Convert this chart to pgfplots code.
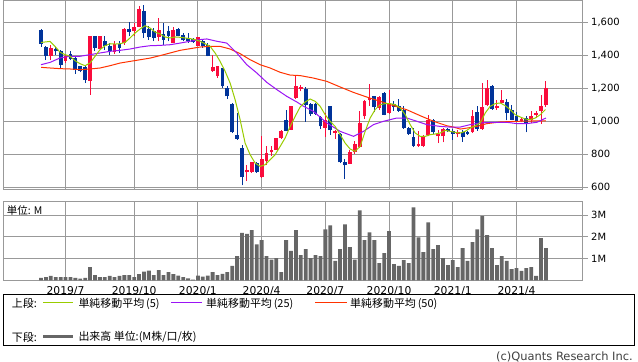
\documentclass[border=0pt]{standalone}
\usepackage{fontspec}
\setmainfont{DejaVu Sans}
\newfontfamily\jp{Noto Sans CJK JP}
\usepackage{pgfplots}
\usepackage{pgfplotstable}
\pgfplotsset{compat=1.18}

\definecolor{upred}{RGB}{250,12,60}
\definecolor{dnblue}{RGB}{0,51,153}
\definecolor{maA}{RGB}{153,204,0}
\definecolor{maB}{RGB}{155,20,245}
\definecolor{maC}{RGB}{255,51,0}
\definecolor{volgray}{RGB}{102,102,102}
\definecolor{gridgray}{RGB}{153,153,153}

% up candles (close > open): index open high low close
\pgfplotstableread{
i o h l c
2 1392 1463 1368 1443
5 1362 1402 1352 1392
10 1244 1515 1160 1513
12 1437 1515 1435 1513
15 1418 1483 1406 1469
17 1473 1562 1463 1560
19 1543 1594 1513 1570
20 1570 1695 1568 1681
24 1509 1624 1483 1549
27 1473 1570 1470 1553
32 1457 1511 1453 1509
35 1301 1402 1299 1325
36 1271 1333 1261 1331
42 689 735 635 701
43 689 751 687 749
45 658 907 656 769
46 756 847 735 806
47 810 850 790 822
48 826 899 824 897
49 897 943 893 941
51 947 1091 945 1089
52 1140 1275 1135 1210
53 1195 1215 1180 1205
58 957 1048 903 1008
60 927 943 891 937
63 741 826 739 814
64 810 877 802 862
65 842 1059 836 988
66 1028 1129 1012 1119
67 1125 1226 1093 1139
69 1079 1149 1069 1145
71 1048 1186 1044 1105
77 850 937 842 860
78 850 917 842 903
79 917 1038 907 1008
81 907 943 866 921
82 907 957 870 951
85 919 943 901 935
88 933 1069 927 1028
90 953 1230 947 1083
91 1099 1250 1089 1200
93 1079 1129 1069 1093
94 1109 1190 1105 1129
98 998 1024 992 1014
100 1008 1059 988 1028
101 1038 1063 1018 1048
102 1059 1155 984 1089
103 1095 1244 1085 1200
}\upc

% down candles (close < open)
\pgfplotstableread{
i o h l c
0 1553 1555 1449 1467
1 1449 1452 1368 1392
3 1437 1446 1402 1422
4 1426 1432 1321 1339
6 1408 1422 1372 1378
7 1382 1392 1285 1311
8 1331 1335 1295 1305
9 1325 1331 1230 1250
11 1513 1515 1422 1442
13 1487 1513 1432 1457
14 1453 1473 1402 1422
16 1469 1483 1412 1442
18 1560 1600 1513 1540
21 1669 1701 1503 1533
22 1558 1574 1493 1507
23 1547 1564 1483 1503
25 1527 1594 1463 1493
26 1543 1574 1483 1517
28 1558 1564 1513 1517
29 1519 1533 1483 1489
30 1503 1533 1473 1483
31 1499 1503 1473 1477
33 1487 1497 1443 1453
34 1463 1473 1392 1396
37 1321 1323 1200 1210
38 1200 1210 1133 1149
39 1105 1107 927 931
40 913 1048 887 893
41 836 857 610 658
44 746 752 685 689
50 1004 1069 937 941
54 1195 1205 995 1095
55 1105 1110 1030 1040
56 1105 1110 1035 1045
57 1024 1028 951 968
59 1089 1093 917 943
61 923 927 745 749
62 749 770 648 731
68 1149 1153 1053 1083
70 1170 1174 1034 1038
72 1103 1119 1059 1083
73 1089 1133 1055 1063
74 1069 1089 953 957
75 957 962 917 921
76 901 957 842 850
80 1008 1012 923 931
83 951 955 933 937
84 941 951 887 921
86 933 943 873 901
87 933 937 917 921
89 1055 1089 941 953
92 1214 1220 1069 1075
95 1115 1135 1004 1048
96 1065 1099 1004 1008
97 1028 1055 992 998
99 1018 1028 931 984
}\dnc

% weekly volume (millions)
\pgfplotstableread{
i v
0 0.11
1 0.15
2 0.20
3 0.15
4 0.15
5 0.15
6 0.15
7 0.11
8 0.08
9 0.11
10 0.61
11 0.24
12 0.15
13 0.15
14 0.20
15 0.15
16 0.20
17 0.24
18 0.24
19 0.15
20 0.29
21 0.40
22 0.44
23 0.24
24 0.47
25 0.24
26 0.38
27 0.29
28 0.21
29 0.15
30 0.09
31 0.03
32 0.21
33 0.17
34 0.21
35 0.38
36 0.24
37 0.30
38 0.38
39 0.66
40 1.11
41 2.18
42 2.14
43 2.31
44 1.66
45 1.85
46 1.11
47 0.95
48 1.02
49 0.38
50 1.85
51 1.35
52 2.31
53 1.16
54 1.44
55 1.02
56 1.16
57 1.11
58 2.35
59 2.53
60 0.90
61 1.44
62 2.58
63 1.53
64 0.95
65 3.22
66 1.85
67 2.21
68 1.85
69 0.79
70 1.25
71 2.26
72 0.75
73 0.66
74 0.93
75 0.79
76 3.36
77 1.98
78 1.30
79 2.67
80 1.44
81 1.62
82 1.02
83 0.70
84 0.93
85 0.61
86 1.48
87 0.89
88 1.76
89 2.35
90 2.95
91 2.08
92 1.48
93 0.70
94 1.11
95 0.89
96 0.52
97 0.56
98 0.43
99 0.56
100 0.61
101 0.20
102 1.94
103 1.48
}\vol

\pgfplotsset{
  chartbase/.style={
    anchor=south west, scale only axis, width=579.4bp,
    xmin=-7.7, xmax=110.5,
    axis line style={gridgray, line width=0.9bp},
    xtick={5,19,32,45,58,71,84,97},
    xtick style={/pgfplots/major tick length=0pt},
    ytick pos=right, yticklabel pos=right,
    ytick style={gridgray, line width=0.9bp},
    tick align=outside, major tick length=5bp,
    grid=major, grid style={gridgray, line width=0.9bp},
    /pgf/number format/assume math mode=true,
    ticklabel style={text=black},
  }
}

\begin{document}
\begin{tikzpicture}
\useasboundingbox (0,0) rectangle (638bp,362bp);
\fill[white] (0,0) rectangle (638bp,362bp);

% ---------- price panel ----------
\begin{axis}[chartbase,
  at={(3.3bp,172.7bp)}, height=188.8bp,
  ymin=586, ymax=1730,
  xticklabels={},
  ytick={600,800,1000,1200,1400,1600},
  yticklabel style={font=\fontsize{10}{12}\selectfont},
]
% wicks
\addplot[draw=none, mark=none, forget plot,
  error bars/.cd, y dir=plus, y explicit, error mark=none,
  error bar style={draw=upred, line width=1bp}]
  table[x=i, y=l, y error expr=\thisrow{h}-\thisrow{l}] {\upc};
\addplot[draw=none, mark=none, forget plot,
  error bars/.cd, y dir=plus, y explicit, error mark=none,
  error bar style={draw=dnblue, line width=1bp}]
  table[x=i, y=l, y error expr=\thisrow{h}-\thisrow{l}] {\dnc};
% bodies
\addplot[draw=none, mark=none, forget plot,
  error bars/.cd, y dir=plus, y explicit, error mark=none,
  error bar style={draw=upred, line width=3.8bp}]
  table[x=i, y=o, y error expr=\thisrow{c}-\thisrow{o}] {\upc};
\addplot[draw=none, mark=none, forget plot,
  error bars/.cd, y dir=plus, y explicit, error mark=none,
  error bar style={draw=dnblue, line width=3.8bp}]
  table[x=i, y=c, y error expr=\thisrow{o}-\thisrow{c}] {\dnc};

% moving averages
\addplot[maC, line width=1bp, mark=none] coordinates {
(0,1325)(1.84,1321)(3.88,1317)(5.92,1315)(7.96,1311)(10,1315)(12.04,1321)(14.08,1335)(16.12,1351)(18.16,1361)(20.2,1371)(22.24,1381)(24.29,1396)(26.33,1412)(28.37,1428)(30.41,1438)(32.45,1448)(34.49,1452)(36.53,1452)(38.57,1436)(40.61,1408)(42.65,1371)(44.69,1341)(46.73,1321)(48.78,1295)(50.82,1278)(52.86,1275)(55.58,1260)(58.3,1240)(61.02,1206)(63.74,1173)(66.46,1145)(69.18,1119)(71.9,1093)(74.62,1068)(77.35,1032)(80.07,998)(82.79,971)(84.15,963)(85.51,951)(86.87,957)(88.91,967)(90.95,984)(93.67,994)(97.07,998)(100.48,1000)(103,1000)};
\addplot[maB, line width=1bp, mark=none] coordinates {
(0,1341)(1.84,1355)(3.88,1382)(5.92,1392)(7.96,1392)(10,1402)(12.04,1412)(14.08,1422)(16.12,1428)(18.16,1436)(20.2,1448)(22.24,1456)(24.29,1458)(26.33,1462)(28.37,1472)(30.41,1483)(32.45,1493)(33.81,1497)(35.85,1483)(37.89,1472)(39.93,1412)(41.97,1341)(44.01,1291)(46.05,1234)(48.1,1190)(50.14,1149)(52.18,1115)(53.5,1090)(55.58,1058)(58.3,988)(61.02,937)(63.74,907)(65.78,937)(67.82,978)(69.86,998)(72.58,1018)(74.62,1018)(76.67,998)(78.71,978)(81.43,967)(83.47,963)(85.51,963)(87.55,978)(89.59,988)(92.31,992)(95.03,992)(97.07,984)(99.1,984)(101.16,992)(103,1018)};
\addplot[maA, line width=1bp, mark=none] coordinates {
(0,1476)(1.84,1482)(2.86,1452)(3.88,1416)(4.9,1402)(5.92,1392)(6.94,1365)(7.96,1347)(8.98,1335)(10,1351)(11.02,1392)(12.04,1432)(13.06,1456)(14.08,1468)(15.1,1466)(16.12,1468)(17.14,1476)(18.16,1503)(19.18,1533)(20.2,1557)(21.22,1577)(22.24,1563)(23.27,1539)(24.29,1527)(25.31,1509)(26.33,1503)(27.35,1509)(28.37,1507)(29.39,1503)(30.41,1499)(31.43,1493)(32.45,1483)(33.47,1468)(34.49,1452)(35.51,1412)(36.53,1361)(37.55,1301)(38.57,1230)(39.59,1129)(40.61,1008)(41.63,866)(42.65,796)(43.67,745)(44.69,725)(45.71,735)(46.73,765)(47.76,796)(48.78,846)(49.8,897)(50.82,967)(51.84,1028)(52.86,1085)(53.88,1115)(54.9,1133)(55.92,1119)(56.94,1089)(57.96,1038)(58.98,998)(60,967)(61.02,917)(62.04,866)(63.06,830)(64.08,816)(65.1,846)(66.12,937)(67.14,1018)(68.16,1069)(69.18,1099)(70.2,1105)(71.22,1105)(72.24,1099)(73.27,1079)(74.29,1038)(75.31,978)(76.33,927)(77.35,907)(78.37,907)(79.39,917)(80.41,921)(81.43,927)(82.45,943)(83.47,937)(84.49,931)(85.51,927)(86.53,937)(87.55,957)(88.57,971)(89.59,988)(90.61,1048)(91.63,1089)(92.65,1105)(93.67,1109)(94.69,1093)(95.71,1069)(96.73,1038)(97.76,1024)(98.78,1012)(99.8,1008)(100.82,1018)(101.84,1038)(102.9,1069)};
\end{axis}

% ---------- volume panel ----------
\begin{axis}[chartbase,
  at={(3.3bp,81.7bp)}, height=78.6bp,
  ymin=0, ymax=3.62,
  xticklabels={2019/7,2019/10,2020/1,2020/4,2020/7,2020/10,2021/1,2021/4},
  xticklabel style={font=\fontsize{10.8}{12}\selectfont, inner sep=1.5bp},
  ytick={1,2,3}, yticklabels={1M,2M,3M},
  yticklabel style={font=\fontsize{10}{12}\selectfont},
]
\addplot[ybar, bar width=3.8bp, fill=volgray, draw=none] table[x=i, y=v] {\vol};
\end{axis}

\node[anchor=west, inner sep=0, font=\jp\fontsize{10.5}{12}\selectfont] at (6.7bp,151bp) {単位: M};

% ---------- legend box ----------
\draw[black, line width=1bp] (3.3bp,16bp) rectangle (634.3bp,67bp);
\begin{scope}[every node/.style={anchor=west, inner sep=0, font=\jp\fontsize{11}{12}\selectfont}]
\node at (11.7bp,58.5bp) {上段:};
\draw[maA, line width=1bp] (43.3bp,59.3bp) -- (73.3bp,59.3bp);
\node at (78.3bp,58.5bp) {単純移動平均\,(5)};
\draw[maB, line width=1bp] (171bp,59.3bp) -- (201.7bp,59.3bp);
\node at (206bp,58.5bp) {単純移動平均\,(25)};
\draw[maC, line width=1bp] (315bp,59.3bp) -- (346.7bp,59.3bp);
\node at (350bp,58.5bp) {単純移動平均\,(50)};
\node at (11.7bp,25bp) {下段:};
\draw[volgray, line width=3bp] (43.3bp,25.7bp) -- (73.3bp,25.7bp);
\node at (78.3bp,25bp) {出来高 単位:(M株/口/枚)};
\end{scope}
\node[anchor=base east, inner sep=0, font=\fontsize{11.5}{12}\selectfont, text=black!75] at (633bp,1.5bp) {(c)Quants Research Inc.};
\end{tikzpicture}
\end{document}
